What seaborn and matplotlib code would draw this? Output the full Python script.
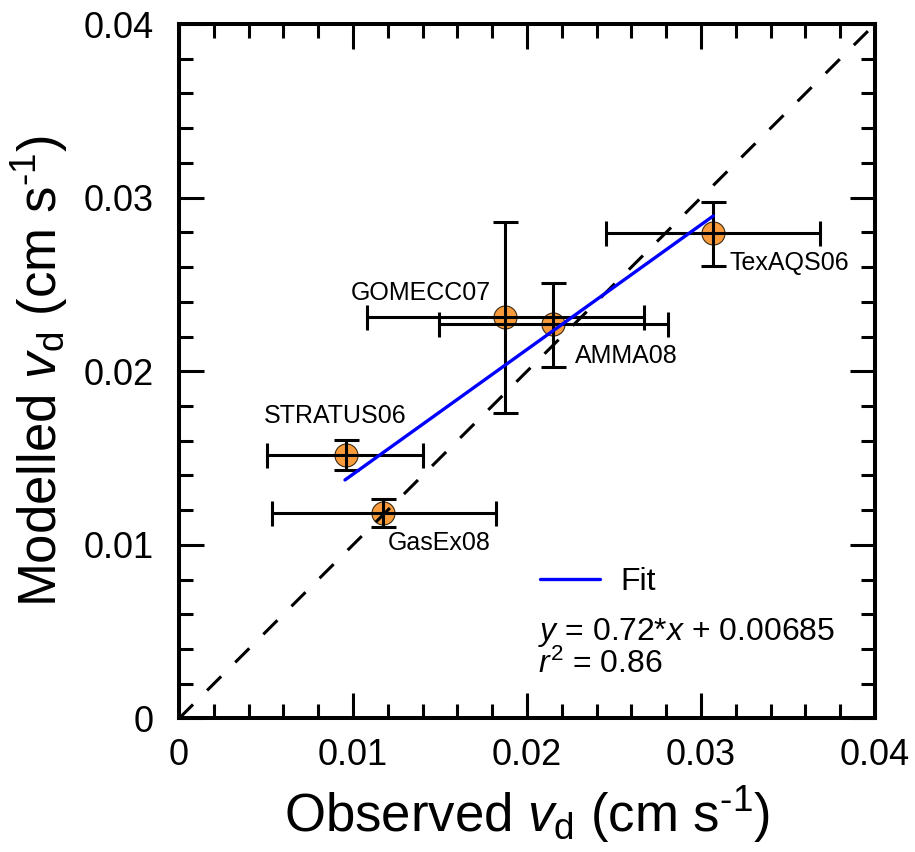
import matplotlib
matplotlib.use("Agg")
import matplotlib.pyplot as plt
import seaborn as sns
import pandas as pd
from matplotlib.ticker import MultipleLocator
from matplotlib.lines import Line2D

# ---- data ----
campaigns = ["TexAQS06", "GOMECC07", "AMMA08", "STRATUS06", "GasEx08"]
observed = [0.03071, 0.01874, 0.02151, 0.00958, 0.01174]
modelled = [0.02795, 0.02311, 0.02271, 0.01518, 0.01182]
obs_low = [0.02454, 0.01079, 0.01496, 0.00504, 0.00533]
obs_high = [0.03684, 0.02672, 0.02809, 0.01404, 0.01822]
mod_low = [0.02604, 0.01762, 0.02027, 0.01431, 0.01105]
mod_high = [0.02977, 0.02860, 0.02510, 0.01604, 0.01263]
label_x = [0.03163, 0.00989, 0.02276, 0.00489, 0.01199]
label_y = [0.02584, 0.02411, 0.02048, 0.01702, 0.00971]
fit_x = [0.00954, 0.03071]
fit_y = [0.01374, 0.02895]
one_to_one = [0.0, 0.04]
tick_values = [0, 0.01, 0.02, 0.03, 0.04]
tick_labels = ["0", "0.01", "0.02", "0.03", "0.04"]
equation = "$y$ = 0.72*$x$ + 0.00685"
r2_text = "$r^2$ = 0.86"

df = pd.DataFrame({"campaign": campaigns, "obs": observed, "mod": modelled})
fit_df = pd.DataFrame({"x": fit_x, "y": fit_y})

sns.set_style("ticks")
plt.rcParams["font.family"] = ["Liberation Sans", "DejaVu Sans"]
plt.rcParams["mathtext.fontset"] = "custom"
plt.rcParams["mathtext.rm"] = "Liberation Sans"
plt.rcParams["mathtext.it"] = "Liberation Sans:italic"
plt.rcParams["mathtext.bf"] = "Liberation Sans:bold"
for key in ["text.color", "axes.labelcolor", "xtick.color", "ytick.color", "axes.edgecolor"]:
    plt.rcParams[key] = "black"

fig = plt.figure(figsize=(9.15, 8.52), dpi=100)
ax = fig.add_axes([0.1956, 0.1567, 0.7607, 0.8151])

# markers (lowest layer)
sns.scatterplot(data=df, x="obs", y="mod", ax=ax, s=275, color="#F99B3B",
                edgecolor="#3a2a10", linewidth=0.8, zorder=2, legend=False)

# error bars over markers
xerr = [[o - l for o, l in zip(observed, obs_low)], [h - o for o, h in zip(observed, obs_high)]]
yerr = [[m - l for m, l in zip(modelled, mod_low)], [h - m for m, h in zip(modelled, mod_high)]]
ax.errorbar(observed, modelled, xerr=xerr, yerr=yerr, fmt="none", ecolor="black",
            elinewidth=2.2, capsize=9, capthick=2.2, zorder=3)

# 1:1 line
ax.plot(one_to_one, one_to_one, color="black", lw=2.2, dashes=(6.5, 6.5), zorder=4)

# fit line
sns.lineplot(data=fit_df, x="x", y="y", ax=ax, color="#0000FF", lw=2.4, zorder=5)

# point labels
for name, lx, ly in zip(campaigns, label_x, label_y):
    ax.text(lx, ly, name, fontsize=18, ha="left", va="baseline", zorder=6, color="black")

ax.set_xlim(0, 0.04)
ax.set_ylim(0, 0.04)
ax.set_xticks(tick_values)
ax.set_xticklabels(tick_labels)
ax.set_yticks(tick_values)
ax.set_yticklabels(tick_labels)
ax.xaxis.set_minor_locator(MultipleLocator(0.002))
ax.yaxis.set_minor_locator(MultipleLocator(0.002))
ax.tick_params(which="both", direction="in", top=True, right=True, width=2.2, color="black")
ax.tick_params(which="major", length=18, labelsize=26, labelcolor="black")
ax.tick_params(which="minor", length=10)
ax.tick_params(axis="x", which="major", pad=14)
ax.tick_params(axis="y", which="major", pad=18)
for sp in ax.spines.values():
    sp.set_linewidth(2.9)
    sp.set_color("black")
    sp.set_visible(True)

ax.set_xlabel(r"Observed $v_{\mathrm{d}}$ (cm s$^{\text{-1}}$)", fontsize=38, labelpad=8, color="black")
ax.set_ylabel(r"Modelled $v_{\mathrm{d}}$ (cm s$^{\text{-1}}$)", fontsize=38, labelpad=10, color="black")

# legend
handle = Line2D([], [], color="#0000FF", lw=2.4)
leg = ax.legend([handle], ["Fit"], loc="center left", bbox_to_anchor=(0.5187, 0.1966),
                frameon=False, fontsize=23, handlelength=1.87, handletextpad=0.66,
                borderpad=0, borderaxespad=0)
for t in leg.get_texts():
    t.set_color("black")
ax.text(0.5160, 0.113, equation, transform=ax.transAxes, fontsize=23, va="baseline", ha="left")
ax.text(0.5160, 0.0655, r2_text, transform=ax.transAxes, fontsize=23, va="baseline", ha="left")

fig.savefig("out.png", dpi=100)
